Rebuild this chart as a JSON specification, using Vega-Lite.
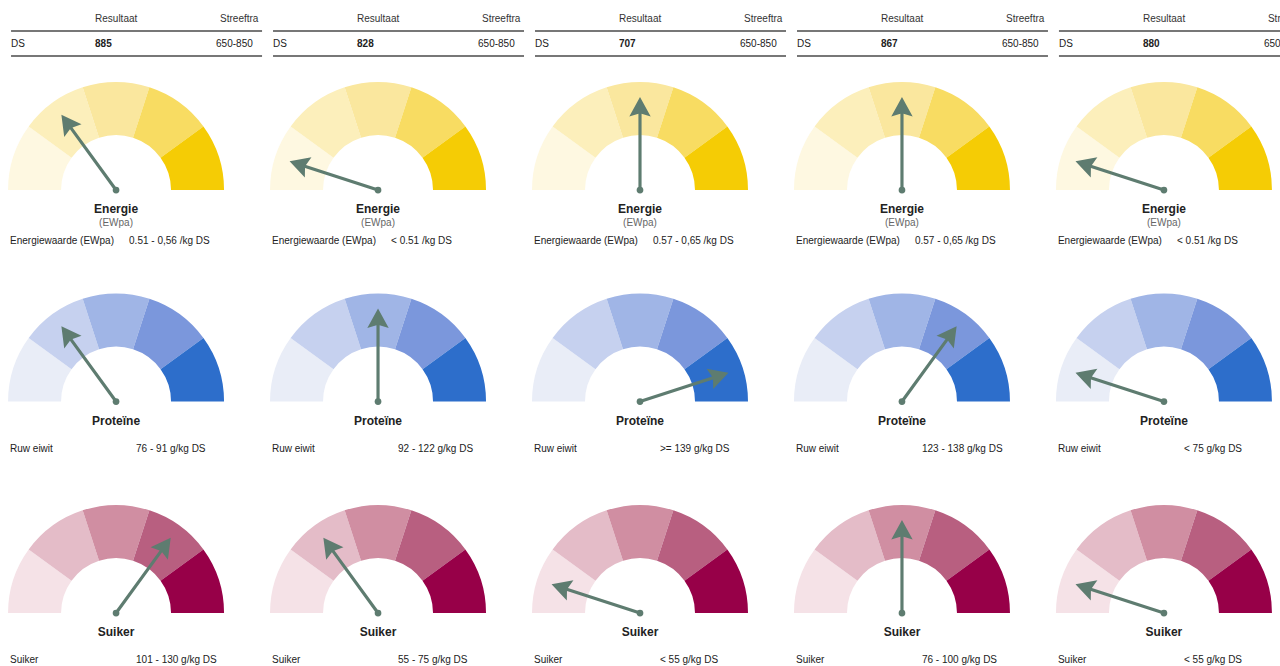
{
  "$schema": "https://vega.github.io/schema/vega-lite/v6.json",
  "width": 1280,
  "height": 666,
  "autosize": {"type": "fit", "contains": "padding"},
  "padding": 0,
  "background": "white",
  "config": {"view": {"stroke": null}, "text": {"font": "Liberation Sans"}},
  "datasets": {
    "g": [
      {"s": 1, "n": "Energie", "a": -36, "sub": "(EWpa)", "lab": "Energiewaarde (EWpa)", "v": "0.51 - 0,56 /kg DS", "p": "DS", "r": "885", "t": "650-850"},
      {"s": 2, "n": "Energie", "a": -72, "sub": "(EWpa)", "lab": "Energiewaarde (EWpa)", "v": "< 0.51 /kg DS", "p": "DS", "r": "828", "t": "650-850"},
      {"s": 3, "n": "Energie", "a": 0, "sub": "(EWpa)", "lab": "Energiewaarde (EWpa)", "v": "0.57 - 0,65 /kg DS", "p": "DS", "r": "707", "t": "650-850"},
      {"s": 4, "n": "Energie", "a": 0, "sub": "(EWpa)", "lab": "Energiewaarde (EWpa)", "v": "0.57 - 0,65 /kg DS", "p": "DS", "r": "867", "t": "650-850"},
      {"s": 5, "n": "Energie", "a": -72, "sub": "(EWpa)", "lab": "Energiewaarde (EWpa)", "v": "< 0.51 /kg DS", "p": "DS", "r": "880", "t": "650-850"},
      {"s": 1, "n": "Proteïne", "a": -36, "lab": "Ruw eiwit", "v": "76 - 91 g/kg DS"},
      {"s": 2, "n": "Proteïne", "a": 0, "lab": "Ruw eiwit", "v": "92 - 122 g/kg DS"},
      {"s": 3, "n": "Proteïne", "a": 72, "lab": "Ruw eiwit", "v": ">= 139 g/kg DS"},
      {"s": 4, "n": "Proteïne", "a": 36, "lab": "Ruw eiwit", "v": "123 - 138 g/kg DS"},
      {"s": 5, "n": "Proteïne", "a": -72, "lab": "Ruw eiwit", "v": "< 75 g/kg DS"},
      {"s": 1, "n": "Suiker", "a": 36, "lab": "Suiker", "v": "101 - 130 g/kg DS"},
      {"s": 2, "n": "Suiker", "a": -36, "lab": "Suiker", "v": "55 - 75 g/kg DS"},
      {"s": 3, "n": "Suiker", "a": -72, "lab": "Suiker", "v": "< 55 g/kg DS"},
      {"s": 4, "n": "Suiker", "a": 0, "lab": "Suiker", "v": "76 - 100 g/kg DS"},
      {"s": 5, "n": "Suiker", "a": -72, "lab": "Suiker", "v": "< 55 g/kg DS"}
    ],
    "seg": [
      {"n": "Energie", "k": "E1", "lo": 0, "hi": 1, "s": [1, 2, 3, 4, 5]},
      {"n": "Energie", "k": "E2", "lo": 1, "hi": 2, "s": [1, 2, 3, 4, 5]},
      {"n": "Energie", "k": "E3", "lo": 2, "hi": 3, "s": [1, 2, 3, 4, 5]},
      {"n": "Energie", "k": "E4", "lo": 3, "hi": 4, "s": [1, 2, 3, 4, 5]},
      {"n": "Energie", "k": "E5", "lo": 4, "hi": 5, "s": [1, 2, 3, 4, 5]},
      {"n": "Proteïne", "k": "P1", "lo": 0, "hi": 1, "s": [1, 2, 3, 4, 5]},
      {"n": "Proteïne", "k": "P2", "lo": 1, "hi": 2, "s": [1, 2, 3, 4, 5]},
      {"n": "Proteïne", "k": "P3", "lo": 2, "hi": 3, "s": [1, 2, 3, 4, 5]},
      {"n": "Proteïne", "k": "P4", "lo": 3, "hi": 4, "s": [1, 2, 3, 4, 5]},
      {"n": "Proteïne", "k": "P5", "lo": 4, "hi": 5, "s": [1, 2, 3, 4, 5]},
      {"n": "Suiker", "k": "S1", "lo": 0, "hi": 1, "s": [1, 2, 3, 4, 5]},
      {"n": "Suiker", "k": "S2", "lo": 1, "hi": 2, "s": [1, 2, 3, 4, 5]},
      {"n": "Suiker", "k": "S3", "lo": 2, "hi": 3, "s": [1, 2, 3, 4, 5]},
      {"n": "Suiker", "k": "S4", "lo": 3, "hi": 4, "s": [1, 2, 3, 4, 5]},
      {"n": "Suiker", "k": "S5", "lo": 4, "hi": 5, "s": [1, 2, 3, 4, 5]}
    ]
  },
  "encoding": {
    "x": {"field": "s", "type": "ordinal", "scale": {"type": "point", "domain": [1, 2, 3, 4, 5], "padding": 0.443}, "axis": null},
    "y": {"field": "n", "type": "nominal", "scale": {"type": "point", "domain": ["Energie", "Proteïne", "Suiker"], "padding": 0.5745, "align": 0.782}, "axis": null}
  },
  "layer": [
    {
      "data": {"name": "seg"},
      "transform": [{"flatten": ["s"]}],
      "mark": {"type": "arc", "radius": 108, "radius2": 55, "stroke": null},
      "encoding": {
        "theta": {"field": "lo", "type": "quantitative", "stack": null, "scale": {"domain": [0, 5], "range": [-1.5707963, 1.5707963]}},
        "theta2": {"field": "hi"},
        "color": {"field": "k", "type": "nominal", "legend": null, "scale": {
          "domain": ["E1", "E2", "E3", "E4", "E5", "P1", "P2", "P3", "P4", "P5", "S1", "S2", "S3", "S4", "S5"],
          "range": ["#fef8e1", "#fcefbb", "#fae79e", "#f8dc62", "#f5cc05", "#e9edf7", "#c6d1ef", "#a0b5e6", "#7b97dc", "#2d6ecb", "#f5e2e7", "#e4bcc8", "#d08ea2", "#b85f80", "#970048"]}}
      }
    },
    {
      "data": {"name": "g"},
      "mark": {"type": "point", "shape": "M-0.017,0L-0.017,-0.82L-0.115,-0.79L0,-1L0.115,-0.79L0.017,-0.82L0.017,0Z", "size": 34596, "filled": true, "color": "#5e7c70", "opacity": 1, "strokeWidth": 0},
      "encoding": {"angle": {"field": "a", "type": "quantitative", "scale": null}}
    },
    {
      "data": {"name": "g"},
      "mark": {"type": "point", "shape": "circle", "size": 45, "filled": true, "color": "#5e7c70", "opacity": 1}
    },
    {
      "data": {"name": "g"},
      "mark": {"type": "text", "dy": 19, "fontSize": 12, "fontWeight": "bold", "color": "#222222", "baseline": "middle"},
      "encoding": {"text": {"field": "n"}}
    },
    {
      "data": {"name": "g"},
      "transform": [{"filter": "datum.n === 'Energie'"}],
      "mark": {"type": "text", "dy": 33, "fontSize": 10, "color": "#666666", "baseline": "middle"},
      "encoding": {"text": {"field": "sub"}}
    },
    {
      "data": {"name": "g"},
      "transform": [{"filter": "datum.n === 'Energie'"}],
      "mark": {"type": "text", "dx": -106, "dy": 51, "align": "left", "fontSize": 10, "color": "#222222", "baseline": "middle"},
      "encoding": {"text": {"field": "lab"}}
    },
    {
      "data": {"name": "g"},
      "transform": [{"filter": "datum.n === 'Energie'"}],
      "mark": {"type": "text", "dx": 13, "dy": 51, "align": "left", "fontSize": 10, "color": "#222222", "baseline": "middle"},
      "encoding": {"text": {"field": "v"}}
    },
    {
      "data": {"name": "g"},
      "transform": [{"filter": "datum.n !== 'Energie'"}],
      "mark": {"type": "text", "dx": -106, "dy": 47, "align": "left", "fontSize": 10, "color": "#222222", "baseline": "middle"},
      "encoding": {"text": {"field": "lab"}}
    },
    {
      "data": {"name": "g"},
      "transform": [{"filter": "datum.n !== 'Energie'"}],
      "mark": {"type": "text", "dx": 20, "dy": 47, "align": "left", "fontSize": 10, "color": "#222222", "baseline": "middle"},
      "encoding": {"text": {"field": "v"}}
    },
    {
      "data": {"name": "g"},
      "transform": [{"filter": "datum.n === 'Energie'"}],
      "mark": {"type": "text", "dx": -21, "dy": -171, "align": "left", "fontSize": 10, "color": "#333333", "baseline": "middle"},
      "encoding": {"text": {"value": "Resultaat"}}
    },
    {
      "data": {"name": "g"},
      "transform": [{"filter": "datum.n === 'Energie'"}],
      "mark": {"type": "text", "dx": 104, "dy": -171, "align": "left", "fontSize": 10, "color": "#333333", "baseline": "middle", "limit": 39.5, "ellipsis": "\u200b", "clip": true},
      "encoding": {"text": {"value": "Streeftraject"}}
    },
    {
      "data": {"name": "g"},
      "transform": [{"filter": "datum.n === 'Energie'"}],
      "mark": {"type": "rule", "xOffset": -105, "x2Offset": 146, "yOffset": -159, "strokeWidth": 1.6, "color": "#4a4a4a", "clip": true},
      "encoding": {"x2": {"field": "s"}}
    },
    {
      "data": {"name": "g"},
      "transform": [{"filter": "datum.n === 'Energie'"}],
      "mark": {"type": "rule", "xOffset": -105, "x2Offset": 146, "yOffset": -134, "strokeWidth": 1.6, "color": "#4a4a4a", "clip": true},
      "encoding": {"x2": {"field": "s"}}
    },
    {
      "data": {"name": "g"},
      "transform": [{"filter": "datum.n === 'Energie'"}],
      "mark": {"type": "text", "dx": -105, "dy": -146, "align": "left", "fontSize": 10, "color": "#222222", "baseline": "middle"},
      "encoding": {"text": {"field": "p"}}
    },
    {
      "data": {"name": "g"},
      "transform": [{"filter": "datum.n === 'Energie'"}],
      "mark": {"type": "text", "dx": -21, "dy": -146, "align": "left", "fontSize": 10, "fontWeight": "bold", "color": "#222222", "baseline": "middle"},
      "encoding": {"text": {"field": "r"}}
    },
    {
      "data": {"name": "g"},
      "transform": [{"filter": "datum.n === 'Energie'"}],
      "mark": {"type": "text", "dx": 100, "dy": -146, "align": "left", "fontSize": 10, "color": "#222222", "baseline": "middle", "clip": true},
      "encoding": {"text": {"field": "t"}}
    }
  ]
}
